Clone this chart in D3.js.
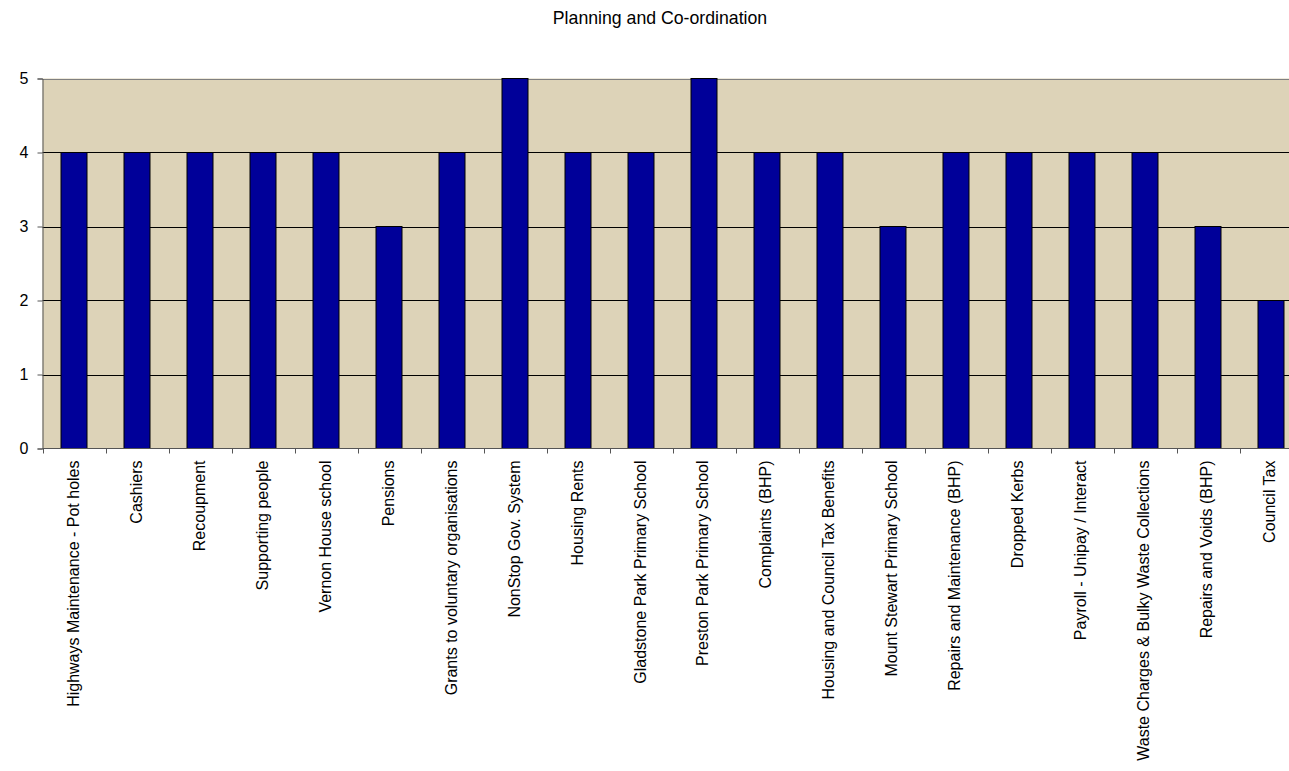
<!DOCTYPE html>
<html><head><meta charset="utf-8">
<script src="https://cdn.jsdelivr.net/npm/d3@7"></script>
<style>body{margin:0;background:#fff;} svg{display:block;font-family:"Liberation Sans",Arial,sans-serif;}</style>
</head><body>
<svg id="c" width="1289" height="771"></svg>
<script>
const title = "Planning and Co-ordination";
const categories = ["Highways Maintenance - Pot holes","Cashiers","Recoupment","Supporting people","Vernon House school","Pensions","Grants to voluntary organisations","NonStop Gov. System","Housing Rents","Gladstone Park Primary School","Preston Park Primary School","Complaints (BHP)","Housing and Council Tax Benefits","Mount Stewart Primary School","Repairs and Maintenance (BHP)","Dropped Kerbs","Payroll - Unipay / Interact","Waste Charges & Bulky Waste Collections","Repairs and Voids (BHP)","Council Tax"];
const values = [4,4,4,4,4,3,4,5,4,4,5,4,4,3,4,4,4,4,3,2];
const yTicks = [0,1,2,3,4,5];

const svg = d3.select("#c");
const pLeft = 42.5, pTop = 78.5, pBottom = 448.5;
const plotW = 63 * categories.length;
const x = d3.scaleBand().domain(categories).range([pLeft, pLeft + plotW]).paddingInner(0.5873).paddingOuter(0.2937);
const y = d3.scaleLinear().domain([0,5]).range([pBottom, pTop]);

svg.append("text").attr("x", 660).attr("y", 23.5).attr("text-anchor","middle").attr("font-size",17.7).text(title);

svg.append("rect").attr("x", pLeft).attr("y", pTop).attr("width", plotW).attr("height", pBottom-pTop).attr("fill","#DDD3B8");

svg.append("g").selectAll("line").data(yTicks.filter(d=>d>0)).join("line")
  .attr("x1", pLeft).attr("x2", pLeft+plotW)
  .attr("y1", d=>Math.round(y(d))+0.5).attr("y2", d=>Math.round(y(d))+0.5)
  .attr("stroke", d=> d===5 ? "#808080" : "#000").attr("stroke-width",1);

svg.append("g").selectAll("rect").data(values).join("rect")
  .attr("x", (d,i)=>x(categories[i]))
  .attr("y", d=>y(d))
  .attr("width", x.bandwidth())
  .attr("height", d=>pBottom - y(d))
  .attr("fill","#000099").attr("stroke","#000").attr("stroke-width",1);

// y axis
const ya = svg.append("g").attr("transform",`translate(${pLeft},0)`)
  .call(d3.axisLeft(y).tickValues(yTicks).tickSize(5).tickPadding(9).tickFormat(d3.format("d")));
ya.select(".domain").attr("stroke","#555");
ya.selectAll(".tick line").attr("stroke","#555");
ya.selectAll("text").attr("font-size",16).attr("fill","#000").attr("font-family","Liberation Sans, Arial, sans-serif");

// x axis
const xs = d3.scalePoint().domain(d3.range(categories.length+1)).range([pLeft, pLeft+plotW]);
const xa = svg.append("g").attr("transform",`translate(0,${pBottom})`);
xa.append("line").attr("x1",pLeft).attr("x2",pLeft+plotW).attr("stroke","#555");
xa.selectAll("line.t").data(d3.range(categories.length+1)).join("line").attr("class","t")
  .attr("x1", d=>Math.round(xs(d))+0.5).attr("x2", d=>Math.round(xs(d))+0.5).attr("y1",0).attr("y2",5).attr("stroke","#555");
xa.selectAll("text").data(categories).join("text")
  .attr("transform", d=>`translate(${x(d)+x.bandwidth()/2+4.5},12) rotate(-90)`)
  .attr("text-anchor","end").attr("font-size",16).attr("fill","#000").text(d=>d);
</script>
</body></html>
